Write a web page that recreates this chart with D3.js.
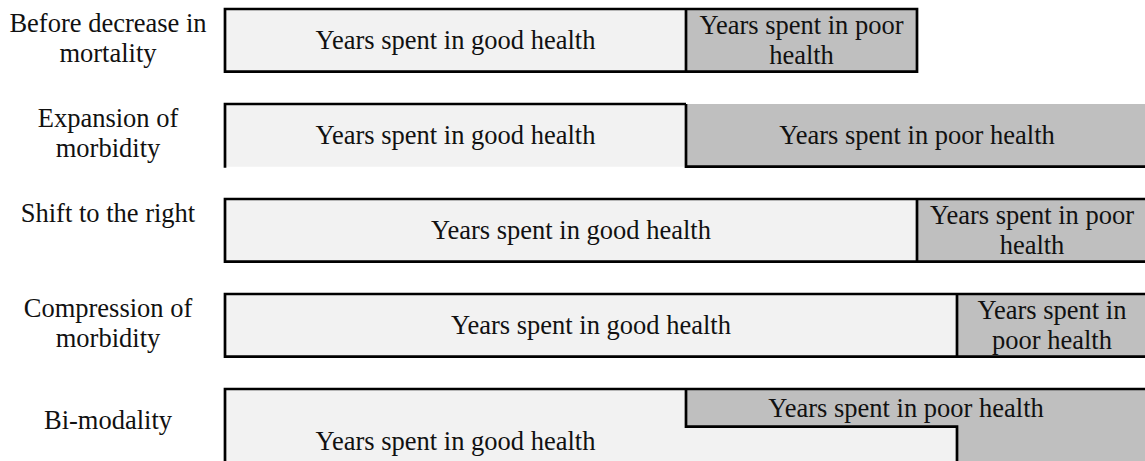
<!DOCTYPE html>
<html>
<head>
<meta charset="utf-8">
<script src="https://cdn.jsdelivr.net/npm/d3@7/dist/d3.min.js"></script>
<style>
body { margin: 0; background: #ffffff; }
svg { display: block; }
</style>
</head>
<body>
<svg id="chart"></svg>
<script>
var width = 1145;
var height = 461;

// scenarios, top to bottom
var scenarios = ["Before decrease in mortality", "Expansion of morbidity",
	"Shift to the right", "Compression of morbidity", "Bi-modality"];
var labelLines = [["Before decrease in", "mortality"], ["Expansion of", "morbidity"],
	["Shift to the right"], ["Compression of", "morbidity"], ["Bi-modality"]];

// years spent in good and poor health (schematic units)
var goodYears = [46.1, 46.1, 69.2, 73.2, 46.1];
var poorYears = [23.1, 46.2, 23.0, 19.0, 46.2];
// bi-modality: one part of the population stays in good health longer
var goodYearsLong = [null, null, null, null, 73.2];

var goodText = [["Years spent in good health"], ["Years spent in good health"],
	["Years spent in good health"], ["Years spent in good health"], ["Years spent in good health"]];
var poorText = [["Years spent in poor", "health"], ["Years spent in poor health"],
	["Years spent in poor", "health"], ["Years spent in", "poor health"], ["Years spent in poor health"]];

// how each bar is framed
var frame = ["full", "open", "full", "full", "step"];

var fontSize = 26.5;
var lineGap = 30;
var fontFamily = "'Liberation Serif', 'Times New Roman', serif";

var svg = d3.select("#chart")
.attr("width", width)
.attr("height", height);

var x = d3.scaleLinear()
.domain([0, 92])
.range([225, 1145]);

var y = d3.scaleBand()
.domain(scenarios)
.range([9, 451.7])
.paddingInner(0.34)
.paddingOuter(0);

var bw = y.bandwidth();

var rows = scenarios.map(function (s, i) {
	var top = y(s);
	var r = {
		i: i,
		x0: x(0),
		xg: x(goodYears[i]),
		xe: x(goodYears[i] + poorYears[i]),
		top: top,
		bottom: top + bw
	};
	if (frame[i] == "step") {
		r.xl = x(goodYearsLong[i]);
		r.ystep = top + bw * 0.6;
		r.bottom = top + bw * 1.3;
	}
	return r;
});

function goodShape(r) {
	if (frame[r.i] == "step") {
		return "M" + r.x0 + "," + r.top + "H" + r.xg + "V" + r.ystep + "H" + r.xl +
			"V" + r.bottom + "H" + r.x0 + "Z";
	}
	return "M" + r.x0 + "," + r.top + "H" + r.xg + "V" + r.bottom + "H" + r.x0 + "Z";
}

function poorShape(r) {
	if (frame[r.i] == "step") {
		return "M" + r.xg + "," + r.top + "H" + r.xe + "V" + r.bottom + "H" + r.xl +
			"V" + r.ystep + "H" + r.xg + "Z";
	}
	return "M" + r.xg + "," + r.top + "H" + r.xe + "V" + r.bottom + "H" + r.xg + "Z";
}

function outline(r) {
	if (frame[r.i] == "open") {
		return "M" + r.x0 + "," + (r.bottom + 1) + "V" + r.top + "H" + r.xg +
			"M" + r.xg + "," + r.top + "V" + r.bottom + "H" + r.xe;
	}
	if (frame[r.i] == "step") {
		return "M" + r.x0 + "," + r.bottom + "V" + r.top + "H" + r.xe +
			"M" + r.xg + "," + r.top + "V" + r.ystep + "H" + r.xl + "V" + r.bottom;
	}
	return "M" + r.x0 + "," + r.top + "H" + r.xe + "V" + r.bottom + "H" + r.x0 + "Z" +
		"M" + r.xg + "," + r.top + "V" + r.bottom;
}

var rowGroup = svg.selectAll("g.row")
.data(rows)
.enter().append("g")
.attr("class", "row");

rowGroup.append("path")
.attr("d", goodShape)
.style("fill", "#f2f2f2");

rowGroup.append("path")
.attr("d", poorShape)
.style("fill", "#bfbfbf");

rowGroup.append("path")
.attr("d", outline)
.style("fill", "none")
.style("stroke", "#000000")
.style("stroke-width", 2.7)
.style("stroke-linejoin", "miter");

// writes a centred block of lines round (cx, cy)
function block(sel, lines, cx, cy) {
	var t = sel.append("text")
	.attr("x", cx)
	.style("font-family", fontFamily)
	.style("font-size", fontSize + "px")
	.style("fill", "#111111")
	.style("text-anchor", "middle");
	lines.forEach(function (line, k) {
		t.append("tspan")
		.attr("x", cx)
		.attr("y", cy + 0.33 * fontSize + (k - (lines.length - 1) / 2) * lineGap)
		.text(line);
	});
}

rowGroup.each(function (r) {
	var g = d3.select(this);
	var i = r.i;
	if (frame[i] == "step") {
		// lower part runs off the page, keep the text inside it
		block(g, goodText[i], (r.x0 + r.xg) / 2, r.ystep + (height - r.ystep) / 2 - 3);
		block(g, poorText[i], (r.xg + r.xe) / 2 - 11, (r.top + r.ystep) / 2);
	}
	else {
		block(g, goodText[i], (r.x0 + r.xg) / 2, (r.top + r.bottom) / 2);
		block(g, poorText[i], (r.xg + r.xe) / 2, (r.top + r.bottom) / 2);
	}
	// scenario label, top aligned except the last one
	var lab = g.append("text")
	.attr("x", 108)
	.style("font-family", fontFamily)
	.style("font-size", fontSize + "px")
	.style("fill", "#111111")
	.style("text-anchor", "middle");
	var lines = labelLines[i];
	lines.forEach(function (line, k) {
		var base = frame[i] == "step" ? r.top + bw / 2 + 0.33 * fontSize : r.top + 23;
		lab.append("tspan")
		.attr("x", 108)
		.attr("y", base + k * lineGap)
		.text(line);
	});
});
</script>
</body>
</html>
